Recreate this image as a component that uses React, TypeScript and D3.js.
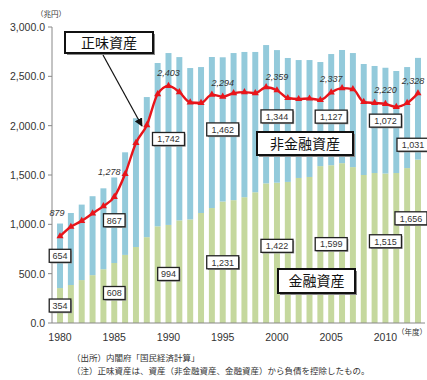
import React from "react";
import * as d3 from "d3";

const years: number[] = d3.range(1980, 2014);
const financial: number[] = [354, 385, 435, 485, 545, 608, 690, 770, 870, 980, 994, 1040, 1050, 1115, 1165, 1231, 1245, 1275, 1325, 1415, 1422, 1430, 1470, 1480, 1590, 1599, 1620, 1580, 1500, 1520, 1515, 1520, 1570, 1656];
const nonFinancial: number[] = [654, 730, 765, 800, 820, 867, 1040, 1305, 1420, 1655, 1742, 1655, 1534, 1479, 1531, 1462, 1491, 1472, 1422, 1402, 1344, 1256, 1195, 1185, 1055, 1127, 1147, 1156, 1125, 1085, 1072, 1034, 1024, 1031];
const netWorth: number[] = [879, 975, 1035, 1110, 1185, 1278, 1510, 1825, 2005, 2320, 2403, 2340, 2235, 2230, 2315, 2294, 2330, 2340, 2330, 2390, 2359, 2280, 2270, 2275, 2260, 2337, 2380, 2370, 2240, 2230, 2220, 2190, 2230, 2328];
const labelYears: number[] = [1980, 1985, 1990, 1995, 2000, 2005, 2010, 2013];
const yTicks: number[] = [0, 500, 1000, 1500, 2000, 2500, 3000];
const xTickYears: number[] = [1980, 1985, 1990, 1995, 2000, 2005, 2010];

const W = 427, H = 380;
const BLUE = "#93CADB";
const GREEN = "#C5D89E";
const RED = "#E8151B";
const NUM_FONT = "'Liberation Sans', Arial, sans-serif";
const JP_FONT = "'Noto Sans CJK JP', 'Noto Sans', sans-serif";

const fmt = d3.format(",");
const fmt1 = d3.format(",.1f");

export default function App() {
  const x = d3.scaleBand<number>().domain(years).range([54.6, 423.4]).paddingInner(0.45).paddingOuter(0.225);
  const y = d3.scaleLinear().domain([0, 3000]).range([323, 27]);
  const cx = (yr: number) => (x(yr) as number) + x.bandwidth() / 2;
  const idx = (yr: number) => years.indexOf(yr);

  const line = d3.line<number>()
    .x((_, i) => cx(years[i]))
    .y((d) => y(d))
    .curve(d3.curveMonotoneX);

  const tri = d3.symbol().type(d3.symbolTriangle).size(22)();

  // annotation offsets (px) for net worth labels
  const netLabelOffset: Record<number, [number, number]> = {
    1980: [-3, -20], 1985: [-5, -22], 1990: [0, -10], 1995: [0, -11], 2000: [0, -10], 2005: [0, -10], 2010: [0, -11], 2013: [-5, -9],
  };
  // box label tweaks (px)
  const nonFinOffset: Record<number, [number, number]> = { 2005: [0, 7], 2013: [-5, 36] };
  const finOffset: Record<number, [number, number]> = { 2000: [0, -7], 2010: [0, -7], 2013: [-7, -23] };

  const boxLabel = (key: string, px: number, py: number, text: string) => {
    const w = text.length * 5.2 + 6;
    const h = 13;
    return (
      <g key={key}>
        <rect x={px - w / 2 + 1.2} y={py - h / 2 + 1.2} width={w} height={h} fill="#9a9a9a" />
        <rect x={px - w / 2} y={py - h / 2} width={w} height={h} fill="#fff" stroke="#222" strokeWidth={1.3} />
        <text x={px} y={py + 3.3} textAnchor="middle" fontSize={9} fontFamily={NUM_FONT} fill="#333">{text}</text>
      </g>
    );
  };

  const callout = (key: string, x0: number, y0: number, w: number, h: number, text: string) => (
    <g key={key}>
      <rect x={x0 + 2} y={y0 + 2} width={w} height={h} fill="#888" />
      <rect x={x0} y={y0} width={w} height={h} fill="#fff" stroke="#111" strokeWidth={2} />
      <text x={x0 + w / 2} y={y0 + h / 2 + 5} textAnchor="middle" fontSize={14} fontFamily={JP_FONT} fill="#111">{text}</text>
    </g>
  );

  return (
    <svg width={W} height={H} style={{ position: "absolute", left: 0, top: 0, background: "#fff" }}>
      <defs>
        <marker id="arr" viewBox="0 0 10 10" refX="9" refY="5" markerWidth="7" markerHeight="7" orient="auto">
          <path d="M0,0 L10,5 L0,10 z" fill="#111" />
        </marker>
      </defs>
      {/* bars */}
      {years.map((yr, i) => (
        <g key={yr}>
          <rect x={x(yr)} y={y(financial[i])} width={x.bandwidth()} height={y(0) - y(financial[i])} fill={GREEN} />
          <rect x={x(yr)} y={y(financial[i] + nonFinancial[i])} width={x.bandwidth()} height={y(financial[i]) - y(financial[i] + nonFinancial[i])} fill={BLUE} />
        </g>
      ))}
      {/* axes */}
      <line x1={52} x2={52} y1={y(3000)} y2={y(0)} stroke="#888" />
      <line x1={52} x2={425} y1={y(0)} y2={y(0)} stroke="#888" />
      {yTicks.map((t) => (
        <g key={t}>
          <line x1={48} x2={52} y1={y(t)} y2={y(t)} stroke="#888" />
          <text x={45} y={y(t) + 4} textAnchor="end" fontSize={10.5} fontFamily={NUM_FONT} fill="#333">{fmt1(t)}</text>
        </g>
      ))}
      <text x={51} y={17} textAnchor="middle" fontSize={7.5} fontFamily={JP_FONT} fill="#333">（兆円）</text>
      {xTickYears.map((yr) => (
        <text key={yr} x={cx(yr)} y={341} textAnchor="middle" fontSize={10.5} fontFamily={NUM_FONT} fill="#333">{yr}</text>
      ))}
      <text x={427} y={335} textAnchor="end" fontSize={7.5} fontFamily={JP_FONT} fill="#333">（年度）</text>

      {/* net worth line */}
      <path d={line(netWorth) as string} fill="none" stroke={RED} strokeWidth={2.4} />
      {netWorth.map((v, i) => (
        <path key={i} d={tri as string} transform={`translate(${cx(years[i])},${y(v)})`} fill={RED} />
      ))}
      {labelYears.map((yr) => {
        const [dx, dy] = netLabelOffset[yr];
        return (
          <text key={yr} x={cx(yr) + dx} y={y(netWorth[idx(yr)]) + dy} textAnchor="middle" fontSize={9} fontStyle="italic" fontFamily={NUM_FONT} fill="#333">{fmt(netWorth[idx(yr)])}</text>
        );
      })}

      {/* box labels */}
      {labelYears.map((yr) => {
        const i = idx(yr);
        const [dx, dy] = nonFinOffset[yr] || [0, 0];
        const mid = y(financial[i] + nonFinancial[i] / 2);
        return boxLabel("n" + yr, cx(yr) + dx, mid + dy, fmt(nonFinancial[i]));
      })}
      {labelYears.map((yr) => {
        const i = idx(yr);
        const [dx, dy] = finOffset[yr] || [0, 0];
        const mid = y(financial[i] / 2);
        return boxLabel("f" + yr, cx(yr) + dx, mid + dy, fmt(financial[i]));
      })}

      {/* callouts */}
      <line x1={103} y1={55} x2={142} y2={126} stroke="#111" strokeWidth={1.2} markerEnd="url(#arr)" />
      {callout("c1", 65, 32, 88, 21, "正味資産")}
      {callout("c2", 257, 132, 96, 23, "非金融資産")}
      {callout("c3", 278, 269, 77, 24, "金融資産")}

      {/* footnotes */}
      <text x={72} y={361} fontSize={8.5} fontFamily={JP_FONT} fill="#333">（出所）内閣府「国民経済計算」</text>
      <text x={72} y={374} fontSize={8.5} fontFamily={JP_FONT} fill="#333">（注）正味資産は、資産（非金融資産、金融資産）から負債を控除したもの。</text>
    </svg>
  );
}
